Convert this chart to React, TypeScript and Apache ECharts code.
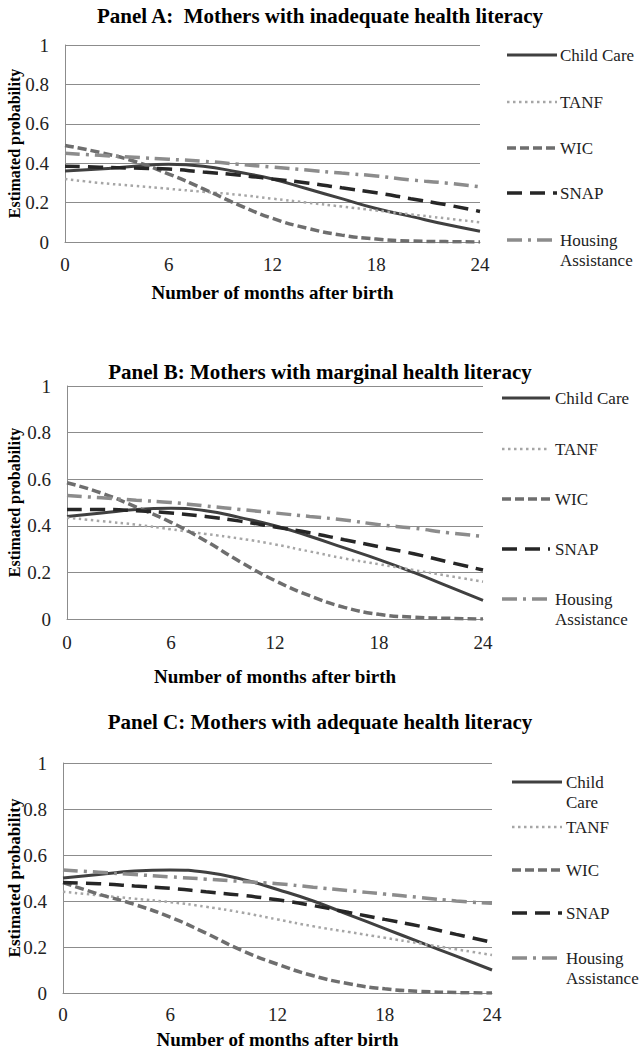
import React, { useEffect, useRef } from "react";
import * as echarts from "echarts";

const months = [0, 2, 4, 6, 8, 10, 12, 14, 16, 18, 20, 22, 24];
const xTicks = [0, 6, 12, 18, 24];
const seriesNames = ["Child Care", "TANF", "WIC", "SNAP", "Housing Assistance"];

const panelTitles = [
  "Panel A:  Mothers with inadequate health literacy",
  "Panel B: Mothers with marginal health literacy",
  "Panel C: Mothers with adequate health literacy",
];
const xAxisTitle = "Number of months after birth";
const yAxisTitle = "Estimated probability";

const legendLabelsA = ["Child Care", "TANF", "WIC", "SNAP", "Housing\nAssistance"];
const legendLabelsB = ["Child Care", "TANF", "WIC", "SNAP", "Housing\nAssistance"];
const legendLabelsC = ["Child\nCare", "TANF", "WIC", "SNAP", "Housing\nAssistance"];

// Panel A: inadequate health literacy
const aChildCare = [0.36, 0.37, 0.385, 0.395, 0.385, 0.355, 0.32, 0.27, 0.22, 0.17, 0.13, 0.09, 0.055];
const aTANF = [0.32, 0.30, 0.285, 0.27, 0.255, 0.24, 0.22, 0.20, 0.18, 0.16, 0.14, 0.12, 0.10];
const aWIC = [0.49, 0.455, 0.41, 0.345, 0.27, 0.19, 0.12, 0.07, 0.035, 0.015, 0.005, 0.002, 0.0];
const aSNAP = [0.385, 0.38, 0.375, 0.37, 0.355, 0.34, 0.32, 0.30, 0.275, 0.25, 0.22, 0.19, 0.155];
const aHousing = [0.45, 0.44, 0.43, 0.42, 0.41, 0.395, 0.38, 0.365, 0.35, 0.335, 0.315, 0.30, 0.28];

// Panel B: marginal health literacy
const bChildCare = [0.44, 0.455, 0.47, 0.475, 0.465, 0.435, 0.40, 0.355, 0.305, 0.255, 0.20, 0.14, 0.08];
const bTANF = [0.435, 0.42, 0.405, 0.385, 0.365, 0.345, 0.32, 0.29, 0.26, 0.235, 0.21, 0.185, 0.16];
const bWIC = [0.585, 0.54, 0.48, 0.415, 0.335, 0.245, 0.165, 0.10, 0.05, 0.02, 0.008, 0.003, 0.0];
const bSNAP = [0.47, 0.47, 0.465, 0.455, 0.44, 0.42, 0.395, 0.37, 0.34, 0.31, 0.28, 0.245, 0.21];
const bHousing = [0.53, 0.52, 0.51, 0.50, 0.485, 0.47, 0.455, 0.44, 0.425, 0.405, 0.39, 0.37, 0.355];

// Panel C: adequate health literacy
const cChildCare = [0.50, 0.515, 0.53, 0.535, 0.525, 0.495, 0.45, 0.40, 0.34, 0.28, 0.22, 0.16, 0.10];
const cTANF = [0.44, 0.425, 0.41, 0.395, 0.375, 0.35, 0.32, 0.29, 0.265, 0.24, 0.215, 0.19, 0.165];
const cWIC = [0.48, 0.43, 0.385, 0.33, 0.26, 0.185, 0.125, 0.075, 0.04, 0.018, 0.007, 0.002, 0.0];
const cSNAP = [0.48, 0.475, 0.465, 0.455, 0.44, 0.425, 0.405, 0.38, 0.35, 0.32, 0.29, 0.255, 0.22];
const cHousing = [0.535, 0.525, 0.515, 0.505, 0.495, 0.485, 0.475, 0.46, 0.445, 0.43, 0.415, 0.40, 0.39];

const panelData = [
  [aChildCare, aTANF, aWIC, aSNAP, aHousing],
  [bChildCare, bTANF, bWIC, bSNAP, bHousing],
  [cChildCare, cTANF, cWIC, cSNAP, cHousing],
];
const legendLabels = [legendLabelsA, legendLabelsB, legendLabelsC];

const FONT = '"Liberation Serif", "Times New Roman", serif';
const lineStyles = [
  { color: "#404040", width: 3, type: "solid" as any },
  { color: "#a6a6a6", width: 2.5, type: [2.5, 3.5] as any },
  { color: "#6e6e6e", width: 3.5, type: [9, 4] as any },
  { color: "#262626", width: 3.5, type: [15, 8] as any },
  { color: "#8c8c8c", width: 3.5, type: [15, 6, 3, 6] as any },
];

const grids = [
  { left: 65, top: 45, width: 415, height: 197, titleTop: 0, xNameGap: 41, yNameGap: 43, yNameSize: 16, xLabelMargin: 13 },
  { left: 67, top: 386, width: 416, height: 233, titleTop: 356, xNameGap: 48, yNameGap: 45, yNameSize: 16, xLabelMargin: 14 },
  { left: 63, top: 763, width: 429, height: 230, titleTop: 706, xNameGap: 37, yNameGap: 40, yNameSize: 17, xLabelMargin: 12 },
];
const legendLayouts = [
  { x1: 507, x2: 557, tx: 560, ys: [55, 102, 148, 193, 240] },
  { x1: 502, x2: 550, tx: 555, ys: [398, 449, 499, 549, 599] },
  { x1: 512, x2: 562, tx: 566, ys: [782, 827, 870, 913, 958] },
];

export default function App() {
  const ref = useRef<HTMLDivElement>(null);
  useEffect(() => {
    if (!ref.current) return;
    const chart = echarts.init(ref.current, null, { renderer: "svg" });

    const series: any[] = [];
    panelData.forEach((panel, pi) => {
      panel.forEach((vals, si) => {
        const ls = lineStyles[si];
        series.push({
          name: seriesNames[si],
          type: "line",
          xAxisIndex: pi,
          yAxisIndex: pi,
          smooth: true,
          showSymbol: false,
          data: months.map((m, i) => [m, vals[i]]),
          lineStyle: { color: ls.color, width: ls.width, type: ls.type, cap: "butt" },
          itemStyle: { color: ls.color },
          z: 3 + si,
        });
      });
    });

    const graphic: any[] = [];
    legendLayouts.forEach((lg, pi) => {
      lg.ys.forEach((y, si) => {
        const ls = lineStyles[si];
        graphic.push({
          type: "line",
          shape: { x1: lg.x1, y1: y, x2: lg.x2, y2: y },
          style: {
            stroke: ls.color,
            lineWidth: ls.width,
            lineDash: Array.isArray(ls.type) ? ls.type : null,
          },
        });
        graphic.push({
          type: "text",
          x: lg.tx,
          y: y - 10,
          style: {
            text: legendLabels[pi][si],
            fill: "#222",
            fontSize: 17,
            fontFamily: FONT,
            verticalAlign: "top",
            lineHeight: 20,
          },
        });
      });
    });

    chart.setOption({
      animation: false,
      backgroundColor: "#ffffff",
      title: grids.map((g, i) => ({
        text: panelTitles[i],
        left: "center",
        top: g.titleTop,
        textStyle: { fontFamily: FONT, fontSize: 21, fontWeight: "bold", color: "#000" },
      })),
      grid: grids.map((g) => ({
        left: g.left,
        top: g.top,
        width: g.width,
        height: g.height,
        outerBoundsMode: "none",
        containLabel: false,
      })),
      xAxis: grids.map((g, i) => ({
        type: "value",
        gridIndex: i,
        min: xTicks[0],
        max: xTicks[xTicks.length - 1],
        interval: 6,
        name: xAxisTitle,
        nameLocation: "middle",
        nameGap: g.xNameGap,
        nameTextStyle: { fontFamily: FONT, fontSize: 19, lineHeight: 19, fontWeight: "bold", color: "#000" },
        axisLine: { show: true, lineStyle: { color: "#8c8c8c", width: 1 } },
        axisTick: { show: false },
        splitLine: { show: false },
        axisLabel: { fontFamily: FONT, fontSize: 19, color: "#222", margin: g.xLabelMargin },
      })),
      yAxis: grids.map((g, i) => ({
        type: "value",
        gridIndex: i,
        min: 0,
        max: 1,
        interval: 0.2,
        name: yAxisTitle,
        nameLocation: "middle",
        nameGap: g.yNameGap,
        nameMoveOverlap: false,
        nameTextStyle: {
          fontFamily: FONT,
          fontSize: g.yNameSize,
          lineHeight: g.yNameSize,
          fontWeight: "bold",
          color: "#000",
        },
        axisLine: { show: true, lineStyle: { color: "#8c8c8c", width: 1 } },
        axisTick: { show: false },
        splitLine: { show: true, lineStyle: { color: "#8c8c8c", width: 1 } },
        axisLabel: {
          fontFamily: FONT,
          fontSize: 19,
          color: "#222",
          margin: 16,
          formatter: (v: number) => String(Math.round(v * 10) / 10),
        },
      })),
      series,
      graphic,
    });

    return () => chart.dispose();
  }, []);

  return (
    <div
      ref={ref}
      style={{ position: "absolute", left: 0, top: 0, width: 640, height: 1050 }}
    />
  );
}
